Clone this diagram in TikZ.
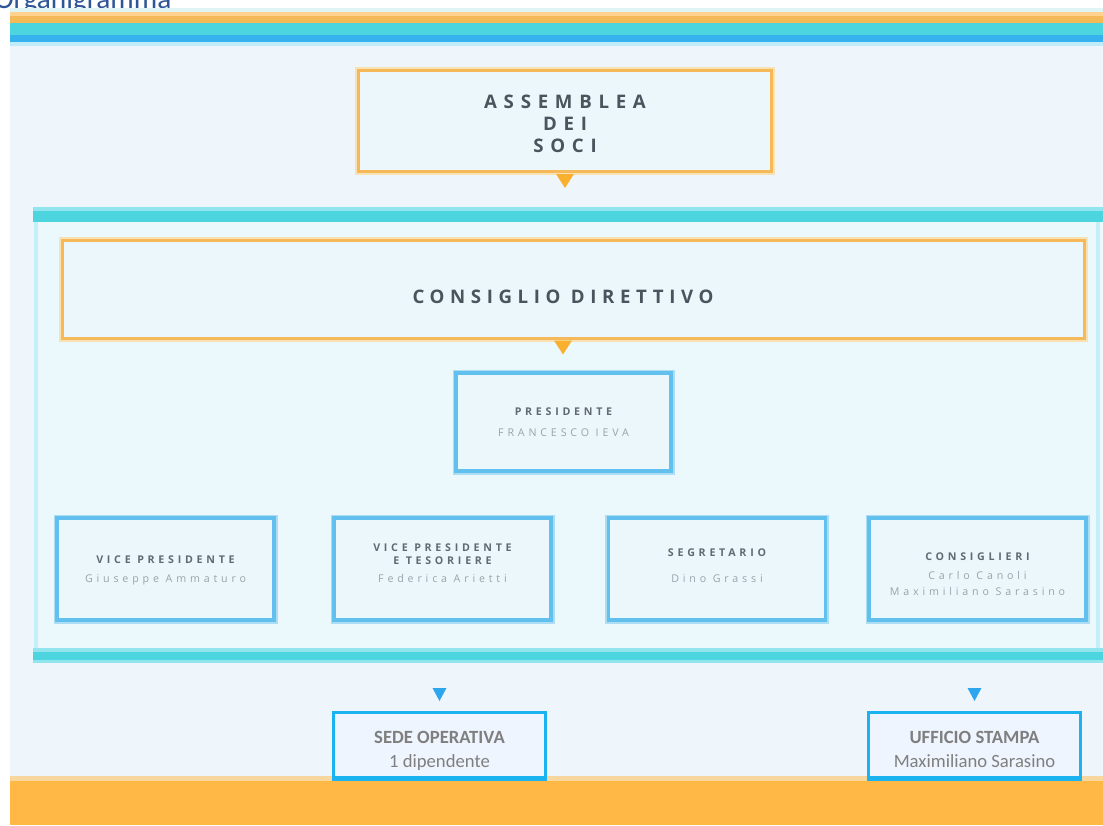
\documentclass[tikz,border=0pt]{standalone}
\usepackage{fontspec}
\setmainfont{Open Sans}
\newfontfamily\calfont{Carlito}
\newfontfamily\headA[LetterSpace=36]{Open Sans}
\newfontfamily\headB[LetterSpace=30]{Open Sans}
\newfontfamily\smallA[LetterSpace=35]{Open Sans}
\newfontfamily\smallB[LetterSpace=36]{Open Sans}
\definecolor{panel}{HTML}{EEF6FB}
\definecolor{contfill}{HTML}{EBF8FC}
\definecolor{contline}{HTML}{C4EEF8}
\definecolor{bandtop}{HTML}{E0F5F3}
\definecolor{orL}{HTML}{FFD28F}
\definecolor{orD}{HTML}{F3BA57}
\definecolor{turq}{HTML}{4CD4DF}
\definecolor{turqL}{HTML}{92E4EE}
\definecolor{bluB}{HTML}{36B2EE}
\definecolor{bandLB}{HTML}{C0EBF8}
\definecolor{orangeB}{HTML}{F6B95A}
\definecolor{orangeH}{HTML}{F8E2B4}
\definecolor{boxfill}{HTML}{ECF7FC}
\definecolor{blueBoxB}{HTML}{62C0EE}
\definecolor{blueBoxH}{HTML}{ACDDF4}
\definecolor{triO}{HTML}{F9B02E}
\definecolor{triB}{HTML}{2EA6EE}
\definecolor{headtxt}{HTML}{4A545C}
\definecolor{smallT}{HTML}{616A72}
\definecolor{smallN}{HTML}{9AA2A8}
\definecolor{sedeB}{HTML}{1AB3EF}
\definecolor{sedefill}{HTML}{EFF5FE}
\definecolor{sedetxt}{HTML}{7F7F7F}
\definecolor{orBottom}{HTML}{FFB845}
\definecolor{orBottomL}{HTML}{F8D79E}
\definecolor{titleblue}{HTML}{2F5597}
\usetikzlibrary{positioning}
\begin{document}
\begin{tikzpicture}[x=0.75pt,y=-0.75pt,
  obox/.style={draw=orangeB, line width=3*0.75pt, fill=boxfill,
    preaction={draw=orangeH, line width=7*0.75pt}, inner sep=0pt},
  bbox/.style={draw=blueBoxB, line width=3.5*0.75pt, fill=boxfill,
    preaction={draw=blueBoxH, line width=7*0.75pt}, inner sep=0pt},
  sbox/.style={draw=sedeB, line width=3*0.75pt, fill=sedefill, inner sep=0pt,
    minimum width=212*0.75pt, minimum height=65*0.75pt},
  headtextA/.style={font=\headA\bfseries\fontsize{14}{16.5}\selectfont, text=headtxt, align=center, inner sep=0pt},
  headtextB/.style={font=\headB\bfseries\fontsize{14}{16}\selectfont, text=headtxt, inner sep=0pt},
  roletext/.style={font=\smallA\bfseries\fontsize{8}{9}\selectfont, text=smallT, inner sep=0pt},
  nametext/.style={font=\smallB\fontsize{8}{9}\selectfont, text=smallN, inner sep=0pt},
  sedetitle/.style={font=\calfont\bfseries\fontsize{14}{16}\selectfont, text=sedetxt, inner sep=0pt},
  sedename/.style={font=\calfont\fontsize{14}{16}\selectfont, text=sedetxt, inner sep=0pt},
  member/.style={bbox, minimum width=217*0.75pt, minimum height=102*0.75pt}
]
\useasboundingbox (0,0) rectangle (1103,825);
\fill[white] (0,0) rectangle (1103,825);
\fill[panel] (10,8) rectangle (1103,825);
% title (cut at top, as in the reference)
\node[anchor=base west, font=\calfont\fontsize{22}{26}\selectfont, text=titleblue, inner sep=0pt] (title) at (-6,8) {Organigramma};
% top bands
\fill[bandtop] (10,8) rectangle (1103,12);
\fill[orL] (10,12) rectangle (1103,16);
\fill[orD] (10,16) rectangle (1103,23);
\fill[turq] (10,23) rectangle (1103,35);
\fill[bluB] (10,35) rectangle (1103,42);
\fill[bandLB] (10,42) rectangle (1103,46);
% assemblea
\node[obox, minimum width=413*0.75pt, minimum height=101*0.75pt] (assemblea) at (565,121) {};
\node[headtextA] (assembleaT) at (565,124) {ASSEMBLEA\\DEI\\SOCI};
\fill[triO] ([shift={(-9,1)}]assemblea.south) -- ([shift={(9,1)}]assemblea.south) -- ([shift={(0,15)}]assemblea.south) -- cycle;
% container
\fill[contfill] (33,207) rectangle (1103,662);
\draw[contline, line width=4*0.75pt] (36,222) -- (36,650);
\draw[contline, line width=4*0.75pt] (1098,222) -- (1098,650);
\fill[turqL] (33,207) rectangle (1103,211);
\fill[turq] (33,211) rectangle (1103,222);
\fill[turqL] (33,648) rectangle (1103,652);
\fill[turq] (33,652) rectangle (1103,660);
\fill[turqL] (33,660) rectangle (1103,663);
% consiglio
\node[obox, minimum width=1022*0.75pt, minimum height=98*0.75pt] (consiglio) at (573,289) {};
\node[headtextB] (consiglioT) at (563,297) {CONSIGLIO DIRETTIVO};
\coordinate (ct) at (consiglioT |- consiglio.south);
\fill[triO] ([shift={(-9,1)}]ct) -- ([shift={(9,1)}]ct) -- ([shift={(0,15)}]ct) -- cycle;
% presidente
\node[bbox, minimum width=215*0.75pt, minimum height=98*0.75pt] (presidente) at (563.5,422) {};
\node[roletext] (presT) at (563.5,412) {PRESIDENTE};
\node[nametext] (presN) at (563.5,433) {FRANCESCO IEVA};
% members
\node[member] (vice) at (165.5,569) {};
\node[roletext] (viceT) at (165.5,560) {VICE PRESIDENTE};
\node[nametext] (viceN) at (165.5,580) {Giuseppe Ammaturo};
\node[member] (tesor) at (442.5,569) {};
\node[roletext] (tesorT1) at (442.5,548) {VICE PRESIDENTE};
\node[roletext] (tesorT2) at (442.5,561) {E TESORIERE};
\node[nametext] (tesorN) at (442.5,578) {Federica Arietti};
\node[member] (segr) at (717,569) {};
\node[roletext] (segrT) at (717,553) {SEGRETARIO};
\node[nametext] (segrN) at (717,579) {Dino Grassi};
\node[member] (cons) at (977.5,569) {};
\node[roletext] (consT) at (977.5,557) {CONSIGLIERI};
\node[nametext] (consN1) at (977.5,575) {Carlo Canoli};
\node[nametext] (consN2) at (977.5,591) {Maximiliano Sarasino};
% bottom orange
\fill[orBottomL] (10,776) rectangle (1103,781);
\fill[orBottom] (10,781) rectangle (1103,825);
% sede operativa
\node[sbox] (sede) at (439.5,745) {};
\node[sedetitle] (sedeT) at (439.5,737) {SEDE OPERATIVA};
\node[sedename, anchor=base] (sedeN) at (439.5,767) {1 dipendente};
\draw[sedeB, line width=3*0.75pt] (sede.south west) -- (sede.south east);
\fill[triB] ([shift={(-7,-23)}]sede.north) -- ([shift={(7,-23)}]sede.north) -- ([shift={(0,-10)}]sede.north) -- cycle;
% ufficio stampa
\node[sbox] (ufficio) at (974.5,745) {};
\node[sedetitle] (uffT) at (974.5,737) {UFFICIO STAMPA};
\node[sedename, anchor=base] (uffN) at (974.5,767) {Maximiliano Sarasino};
\draw[sedeB, line width=3*0.75pt] (ufficio.south west) -- (ufficio.south east);
\fill[triB] ([shift={(-7,-23)}]ufficio.north) -- ([shift={(7,-23)}]ufficio.north) -- ([shift={(0,-10)}]ufficio.north) -- cycle;
\end{tikzpicture}
\end{document}
